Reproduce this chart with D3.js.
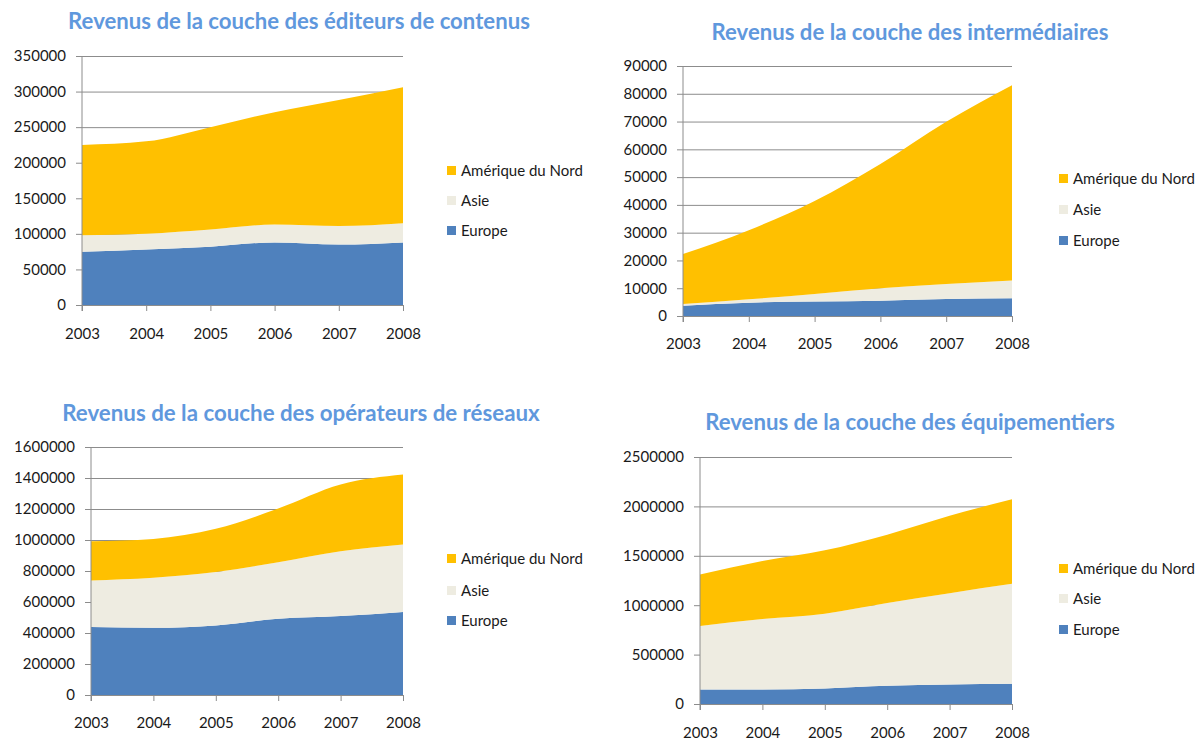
<!DOCTYPE html>
<html><head><meta charset="utf-8">
<script src="https://cdn.jsdelivr.net/npm/d3@7"></script>
<style>body{margin:0;background:#fff;} svg{display:block;}</style>
</head><body>
<svg id="chart" width="1199" height="740"></svg>
<script>
const years = [2003, 2004, 2005, 2006, 2007, 2008];
const legendLabels = ["Amérique du Nord", "Asie", "Europe"];

const editeursEurope   = [75000, 78000, 82000, 88000, 85000, 88000];
const editeursAsie     = [23000, 22000, 24000, 25000, 26000, 27000];
const editeursAmerique = [127000, 130000, 144000, 158000, 177000, 191000];

const interEurope   = [3700, 4800, 5200, 5500, 6100, 6400];
const interAsie     = [600, 1200, 2700, 4500, 5400, 6400];
const interAmerique = [18000, 24900, 33500, 44700, 58400, 70300];

const operEurope   = [438000, 434000, 449000, 492000, 509000, 535000];
const operAsie     = [301000, 322000, 344000, 365000, 419000, 436000];
const operAmerique = [253000, 251000, 279000, 346000, 430000, 451000];

const equipEurope   = [148000, 148000, 158000, 185000, 198000, 205000];
const equipAsie     = [642000, 712000, 756000, 837000, 924000, 1011000];
const equipAmerique = [520000, 588000, 642000, 692000, 783000, 857000];

const ticksEditeurs = [0, 50000, 100000, 150000, 200000, 250000, 300000, 350000];
const ticksInter    = [0, 10000, 20000, 30000, 40000, 50000, 60000, 70000, 80000, 90000];
const ticksOper     = [0, 200000, 400000, 600000, 800000, 1000000, 1200000, 1400000, 1600000];
const ticksEquip    = [0, 500000, 1000000, 1500000, 2000000, 2500000];

const titles = [
  "Revenus de la couche des éditeurs de contenus",
  "Revenus de la couche des intermédiaires",
  "Revenus de la couche des opérateurs de réseaux",
  "Revenus de la couche des équipementiers"
];

const colors = { "Europe": "#4F81BD", "Asie": "#EEECE1", "Amérique du Nord": "#FFC000" };
const FONT = "Lato, 'Open Sans', sans-serif";

const charts = [
  { title: titles[0], eu: editeursEurope, as: editeursAsie, am: editeursAmerique, ticks: ticksEditeurs,
    x0: 82, x1: 403, yTop: 56, yBot: 305, tX: 299, tY: 20, tW: 462, legX: 447, legY: [170, 200, 230], xLabY: 333 },
  { title: titles[1], eu: interEurope, as: interAsie, am: interAmerique, ticks: ticksInter,
    x0: 683, x1: 1012, yTop: 66, yBot: 316, tX: 910, tY: 31, tW: 397, legX: 1059, legY: [178, 209, 240], xLabY: 343 },
  { title: titles[2], eu: operEurope, as: operAsie, am: operAmerique, ticks: ticksOper,
    x0: 91, x1: 403, yTop: 447, yBot: 695, tX: 301, tY: 412, tW: 478, legX: 447, legY: [558, 590, 620], xLabY: 722 },
  { title: titles[3], eu: equipEurope, as: equipAsie, am: equipAmerique, ticks: ticksEquip,
    x0: 700, x1: 1012, yTop: 457, yBot: 704, tX: 910, tY: 421, tW: 410, legX: 1059, legY: [568, 598, 629], xLabY: 732 }
];

const svg = d3.select("#chart");
const keys = ["Europe", "Asie", "Amérique du Nord"];

charts.forEach(c => {
  const g = svg.append("g");
  const rows = years.map((yr, i) => ({ year: yr, "Europe": c.eu[i], "Asie": c.as[i], "Amérique du Nord": c.am[i] }));
  const stacked = d3.stack().keys(keys)(rows);
  const x = d3.scalePoint().domain(years).range([c.x0, c.x1]);
  const y = d3.scaleLinear().domain([0, d3.max(c.ticks)]).range([c.yBot, c.yTop]);

  // gridlines + y ticks
  const yAxis = d3.axisLeft(y).tickValues(c.ticks).tickSize(-(c.x1 - c.x0)).tickSizeOuter(0).tickPadding(16).tickFormat(d3.format("d"));
  const ya = g.append("g").attr("transform", `translate(${c.x0},0)`).call(yAxis);
  ya.select(".domain").remove();
  ya.selectAll(".tick line").attr("stroke", "#8c8c8c").attr("x2", c.x1 - c.x0).attr("x1", -6);
  ya.selectAll(".tick text").attr("font-family", FONT).attr("font-size", 15).attr("fill", "#1a1a1a");

  // areas
  const area = d3.area().curve(d3.curveMonotoneX).x(d => x(d.data.year)).y0(d => y(d[0])).y1(d => y(d[1]));
  g.selectAll("path.area").data(stacked).join("path").attr("class", "area")
    .attr("d", area).attr("fill", d => colors[d.key]);

  // y axis line
  g.append("line").attr("x1", c.x0).attr("x2", c.x0).attr("y1", c.yTop).attr("y2", c.yBot + 6)
    .attr("stroke", "#8c8c8c");

  // x axis
  const xAxis = d3.axisBottom(x).tickSize(6).tickSizeOuter(0).tickPadding(14);
  const xa = g.append("g").attr("transform", `translate(0,${c.yBot})`).call(xAxis);
  xa.select(".domain").attr("stroke", "#8c8c8c");
  xa.selectAll(".tick line").attr("stroke", "#8c8c8c");
  xa.selectAll(".tick text").attr("font-family", FONT).attr("font-size", 15).attr("fill", "#1a1a1a")
    .attr("y", null).attr("dy", null)
    .attr("transform", `translate(0,${c.xLabY - c.yBot})`).attr("dominant-baseline", "central");

  // title
  const t = g.append("text").attr("x", c.tX).attr("y", c.tY).attr("text-anchor", "middle")
    .attr("dominant-baseline", "central").attr("font-family", FONT).attr("font-weight", "bold")
    .attr("font-size", 18).attr("fill", "#5F98DD").text(c.title);
  const w = t.node().getComputedTextLength();
  t.attr("font-size", 18 * c.tW / w);

  // legend
  legendLabels.forEach((name, i) => {
    g.append("rect").attr("x", c.legX).attr("y", c.legY[i] - 4).attr("width", 9).attr("height", 9)
      .attr("fill", colors[name]);
    g.append("text").attr("x", c.legX + 14).attr("y", c.legY[i]).attr("dominant-baseline", "central")
      .attr("font-family", FONT).attr("font-size", 15).attr("fill", "#1a1a1a").text(name);
  });
});
</script>
</body></html>
